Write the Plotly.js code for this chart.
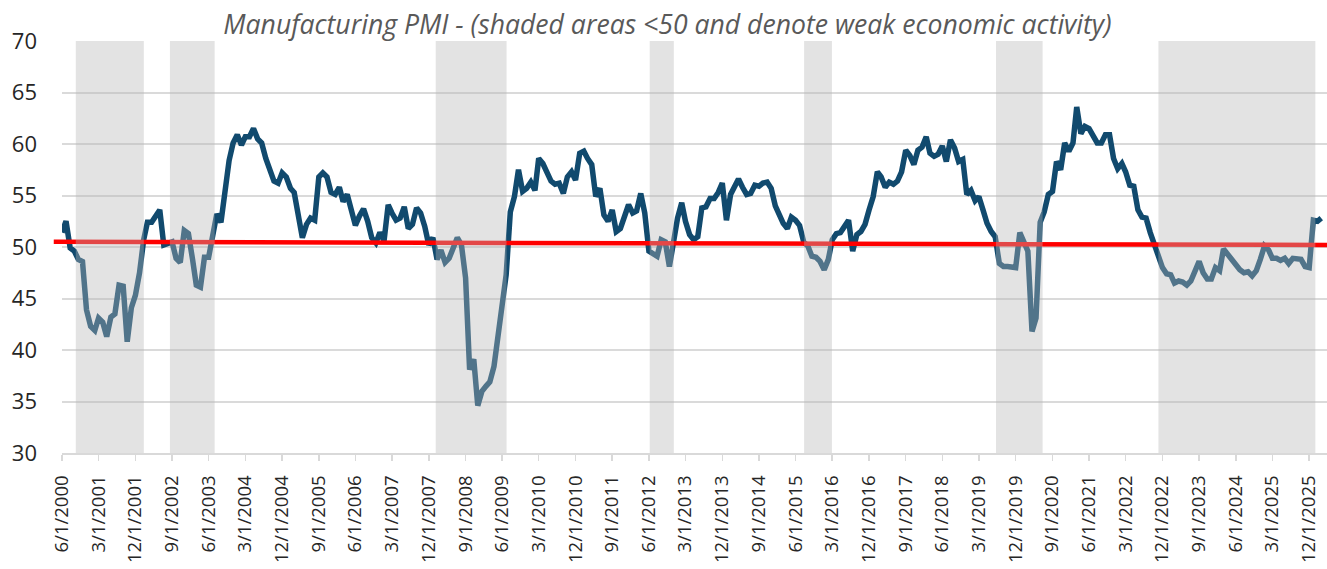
<!DOCTYPE html>
<html>
<head>
<meta charset="utf-8">
<script src="https://cdn.plot.ly/plotly-3.0.1.min.js"></script>
<style>
  html, body { margin: 0; padding: 0; background: #ffffff; }
  #chart { width: 1327px; height: 569px; }
</style>
</head>
<body>
<div id="chart"></div>
<script>
// ISM Manufacturing PMI, monthly (series starts June 2000)
const pmi2000 = [51.4, 52.5, 49.9, 49.6, 48.8, 48.6, 43.9]; // Jun-Dec
const pmi2001 = [42.3, 41.9, 43.1, 42.7, 41.3, 43.2, 43.5, 46.3, 46.2, 40.8, 44.1, 45.3];
const pmi2002 = [47.5, 50.7, 52.4, 52.4, 53.1, 53.6, 50.2, 50.3, 50.5, 48.9, 48.5, 51.6];
const pmi2003 = [51.3, 48.8, 46.3, 46.1, 49.0, 49.0, 51.0, 53.2, 52.4, 55.2, 58.4, 60.1];
const pmi2004 = [60.9, 59.9, 60.7, 60.7, 61.5, 60.5, 60.1, 58.6, 57.5, 56.4, 56.2, 57.2];
const pmi2005 = [56.8, 55.7, 55.3, 53.2, 50.9, 52.2, 52.8, 52.6, 56.8, 57.2, 56.8, 55.3];
const pmi2006 = [55.1, 55.8, 54.4, 55.1, 53.8, 52.1, 53.0, 53.7, 52.5, 50.9, 50.4, 51.4];
const pmi2007 = [50.6, 54.1, 53.3, 52.6, 52.8, 53.9, 51.8, 52.2, 53.8, 53.3, 52.0, 50.2];
const pmi2008 = [50.9, 48.8, 49.7, 48.5, 48.9, 49.9, 50.9, 50.2, 47.0, 38.1, 39.1, 34.6];
const pmi2009 = [36.0, 36.5, 36.9, 38.4, 41.2, 44.7, 47.3, 53.4, 54.9, 57.5, 55.4, 55.7];
const pmi2010 = [56.3, 55.5, 58.6, 58.1, 57.2, 56.4, 56.1, 56.2, 55.2, 56.8, 57.3, 56.5];
const pmi2011 = [59.1, 59.3, 58.6, 58.0, 54.9, 55.7, 53.1, 52.5, 53.6, 51.5, 51.8, 52.8];
const pmi2012 = [54.1, 53.3, 53.5, 55.2, 53.3, 49.6, 49.4, 49.1, 50.7, 50.5, 48.1, 50.5];
const pmi2013 = [52.8, 54.3, 52.5, 51.2, 50.7, 51.0, 53.8, 53.9, 54.7, 54.7, 55.3, 56.2];
const pmi2014 = [52.6, 55.1, 55.9, 56.6, 55.8, 55.1, 55.2, 56.0, 55.9, 56.2, 56.3, 55.7];
const pmi2015 = [54.0, 53.1, 52.3, 51.8, 52.9, 52.6, 52.1, 50.5, 50.1, 49.1, 49.0, 48.6];
const pmi2016 = [47.8, 48.8, 50.7, 51.3, 51.4, 52.0, 52.6, 49.6, 51.2, 51.5, 52.2, 53.6];
const pmi2017 = [54.9, 57.3, 56.8, 55.8, 56.3, 56.1, 56.4, 57.3, 59.4, 58.9, 58.0, 59.4];
const pmi2018 = [59.7, 60.7, 59.1, 58.8, 59.0, 59.8, 58.3, 60.4, 59.6, 58.3, 58.5, 55.1];
const pmi2019 = [55.5, 54.5, 54.9, 53.6, 52.3, 51.5, 51.0, 48.4, 48.1, 48.1, 48.1, 48.0];
const pmi2020 = [51.4, 50.5, 49.6, 41.8, 43.1, 52.4, 53.4, 55.1, 55.4, 58.3, 57.5, 60.1];
const pmi2021 = [59.3, 60.1, 63.6, 61.0, 61.7, 61.5, 60.7, 60.1, 60.1, 60.9, 60.9, 58.6];
const pmi2022 = [57.6, 58.1, 57.3, 56.0, 55.9, 53.6, 52.9, 52.8, 51.4, 50.2, 49.0, 48.0];
const pmi2023 = [47.4, 47.3, 46.5, 46.7, 46.6, 46.3, 46.7, 47.8, 48.6, 47.5, 46.9, 46.9];
const pmi2024 = [48.0, 47.7, 49.8, 49.3, 48.8, 48.5, 47.8, 47.5, 47.6, 47.2, 47.7, 48.8];
const pmi2025 = [50.1, 49.7, 48.9, 48.9, 48.7, 48.9, 48.4, 48.9, 48.9, 48.8, 48.1, 48.0];
const pmi2026 = [52.6, 52.5, 52.8]; // Jan-Mar

// reference (trend) line level at the start and the end of the chart
const refStart = 50.5;
const refEnd = 50.2;

// shaded "weak activity" periods [start, end]
const shadeStarts = ['2000-09-12', '2002-08-16', '2008-01-22', '2012-06-07', '2015-08-04', '2019-07-07', '2022-11-01'];
const shadeEnds   = ['2002-02-02', '2003-07-16', '2009-07-04', '2012-12-04', '2016-02-28', '2020-06-19', '2026-01-16'];

// x-axis tick labels
const tickLabels = ['6/1/2000','3/1/2001','12/1/2001','9/1/2002','6/1/2003','3/1/2004','12/1/2004',
  '9/1/2005','6/1/2006','3/1/2007','12/1/2007','9/1/2008','6/1/2009','3/1/2010','12/1/2010',
  '9/1/2011','6/1/2012','3/1/2013','12/1/2013','9/1/2014','6/1/2015','3/1/2016','12/1/2016',
  '9/1/2017','6/1/2018','3/1/2019','12/1/2019','9/1/2020','6/1/2021','3/1/2022','12/1/2022',
  '9/1/2023','6/1/2024','3/1/2025','12/1/2025'];

const yTicks = [30, 35, 40, 45, 50, 55, 60, 65, 70];

// ---- build series ----
const yearBlocks = [
  [2000, 6, pmi2000], [2001, 1, pmi2001], [2002, 1, pmi2002], [2003, 1, pmi2003],
  [2004, 1, pmi2004], [2005, 1, pmi2005], [2006, 1, pmi2006], [2007, 1, pmi2007],
  [2008, 1, pmi2008], [2009, 1, pmi2009], [2010, 1, pmi2010], [2011, 1, pmi2011],
  [2012, 1, pmi2012], [2013, 1, pmi2013], [2014, 1, pmi2014], [2015, 1, pmi2015],
  [2016, 1, pmi2016], [2017, 1, pmi2017], [2018, 1, pmi2018], [2019, 1, pmi2019],
  [2020, 1, pmi2020], [2021, 1, pmi2021], [2022, 1, pmi2022], [2023, 1, pmi2023],
  [2024, 1, pmi2024], [2025, 1, pmi2025], [2026, 1, pmi2026]
];
const pad = n => (n < 10 ? '0' : '') + n;
const dates = [], values = [];
yearBlocks.forEach(([yr, m0, arr]) => {
  arr.forEach((v, i) => { dates.push(yr + '-' + pad(m0 + i) + '-01'); values.push(v); });
});
const toIso = s => { const [m, d, y] = s.split('/'); return y + '-' + pad(+m) + '-' + pad(+d); };
const tickVals = tickLabels.map(toIso);

const xStart = dates[0];
const xEnd = '2026-04-13';

const shapes = [];
// red reference line (drawn under the shading)
shapes.push({
  type: 'line', layer: 'above', xref: 'paper', yref: 'y',
  x0: -0.0065, x1: 1, y0: refStart, y1: refEnd,
  line: { color: '#ff0000', width: 4.5 }
});
shadeStarts.forEach((s, i) => {
  shapes.push({
    type: 'rect', layer: 'above', xref: 'x', yref: 'y',
    x0: s, x1: shadeEnds[i], y0: 30, y1: 70,
    fillcolor: 'rgba(184,184,184,0.39)', line: { width: 0 }
  });
});

const trace = {
  x: dates, y: values, type: 'scatter', mode: 'lines',
  line: { color: '#114a6e', width: 5.5, shape: 'linear' },
  hoverinfo: 'x+y', showlegend: false
};

const layout = {
  width: 1327, height: 569,
  margin: { l: 62, r: 0, t: 41, b: 116, pad: 0 },
  paper_bgcolor: '#ffffff', plot_bgcolor: '#ffffff',
  font: { family: 'Open Sans, sans-serif', color: '#262626' },
  title: {
    text: '<i>Manufacturing PMI - (shaded areas <50 and denote weak economic activity)</i>',
    font: { family: 'Open Sans, sans-serif', size: 26.6, color: '#595959' },
    xref: 'container', x: 0.503, xanchor: 'center',
    yref: 'container', y: 0.957, yanchor: 'middle'
  },
  xaxis: {
    type: 'date', range: [xStart, xEnd],
    tickmode: 'array', tickvals: tickVals, ticktext: tickLabels,
    tickangle: -90, tickfont: { size: 18.5, color: '#262626' },
    ticks: 'outside', ticklen: 6, tickwidth: 1.5, tickcolor: '#d9d9d9',
    ticklabelstandoff: 7,
    showgrid: false, zeroline: false,
    showline: true, linecolor: '#d9d9d9', linewidth: 2,
    fixedrange: true
  },
  yaxis: {
    range: [30, 70], tickmode: 'array', tickvals: yTicks,
    tickfont: { size: 22, color: '#262626' },
    showgrid: true, gridcolor: '#dadada', gridwidth: 2,
    zeroline: false, showline: false, ticks: '',
    ticklabelstandoff: 24,
    fixedrange: true
  },
  shapes: shapes
};

Plotly.newPlot('chart', [trace], layout, { displayModeBar: false, staticPlot: true });
</script>
</body>
</html>
